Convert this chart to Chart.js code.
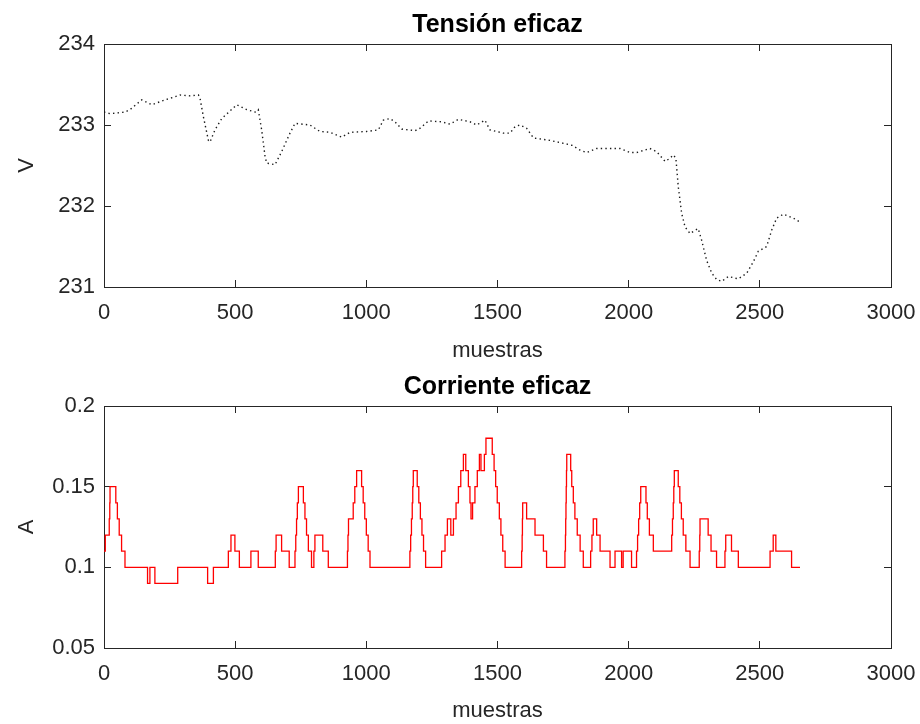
<!DOCTYPE html>
<html>
<head>
<meta charset="utf-8">
<script src="https://cdn.jsdelivr.net/npm/chart.js@4.4.1/dist/chart.umd.min.js"></script>
<style>
html,body{margin:0;padding:0;background:#fff;width:920px;height:724px;overflow:hidden}
canvas{position:absolute;left:0}
#c1{top:0}
#c2{top:362px}
</style>
</head>
<body>
<canvas id="c1" width="920" height="362"></canvas>
<canvas id="c2" width="920" height="362"></canvas>
<script>
// ---- data ----
const samplesV = [0,23,80,99,144,182,233,290,328,360,366,379,398,404,423,449,506,544,576,588,601,614,620,652,677,709,728,785,823,862,906,938,1001,1046,1065,1090,1109,1135,1186,1205,1237,1287,1319,1351,1395,1421,1452,1471,1522,1548,1567,1586,1611,1637,1700,1757,1783,1815,1840,1878,1929,1967,2005,2031,2081,2107,2139,2158,2170,2180,2189,2202,2215,2234,2253,2265,2278,2297,2317,2336,2355,2380,2418,2450,2475,2494,2526,2545,2564,2590,2628,2659];
const tensionV = [233.16,233.14,233.16,233.19,233.31,233.25,233.31,233.37,233.36,233.37,233.33,233.10,232.81,232.79,232.94,233.08,233.25,233.19,233.16,233.19,232.94,232.61,232.53,232.51,232.67,232.90,233.02,233.00,232.92,232.91,232.85,232.91,232.92,232.94,233.06,233.08,233.04,232.95,232.93,232.96,233.05,233.04,233.01,233.07,233.04,233.00,233.06,232.94,232.90,232.90,232.98,233.00,232.96,232.84,232.81,232.77,232.75,232.69,232.66,232.71,232.71,232.71,232.66,232.66,232.71,232.67,232.55,232.59,232.63,232.59,232.24,231.91,231.74,231.66,231.70,231.72,231.58,231.33,231.17,231.09,231.07,231.13,231.10,231.17,231.31,231.44,231.50,231.70,231.85,231.90,231.85,231.79];

// sample at which each current level starts, and that level (A)
const samplesI = [
  0,5,20,22,23,45,51,58,67,80,
  166,175,194,281,395,417,
  474,484,499,516,560,588,653,656,677,706,
  728,731,734,737,741,760,766,772,779,791,800,804,834,855,
  928,930,932,950,956,963,982,988,994,1000,1007,1014,
  1166,1169,1172,1175,1177,1179,1194,1200,1206,1212,1218,1226,
  1287,1300,1309,1322,1332,1342,1351,1360,1370,1379,1389,1395,1399,1405,1414,1423,1431,1437,1450,1456,
  1480,1487,1493,1499,1507,1513,1520,1529,
  1592,1594,1595,1596,1611,1643,1675,1687,
  1757,1759,1760,1761,1762,1763,1764,1779,1783,1789,1795,1804,1815,1827,
  1855,1860,1865,1878,1891,1929,1948,1973,1979,2011,
  2030,2034,2038,2042,2046,2066,2071,2079,2094,
  2164,2167,2170,2172,2174,2189,2195,2201,2208,2218,2234,
  2269,2271,2272,2303,2314,2335,2367,2370,2392,2418,
  2539,2551,2561,2621,2653
];
const corrienteA = [
  0.11,0.12,0.13,0.14,0.15,0.14,0.13,0.12,0.11,0.10,
  0.09,0.10,0.09,0.10,0.09,0.10,
  0.11,0.12,0.11,0.10,0.11,0.10,0.11,0.12,0.11,0.10,
  0.11,0.12,0.13,0.14,0.15,0.14,0.13,0.12,0.11,0.10,0.11,0.12,0.11,0.10,
  0.11,0.12,0.13,0.14,0.15,0.16,0.15,0.14,0.13,0.12,0.11,0.10,
  0.11,0.12,0.13,0.14,0.15,0.16,0.15,0.14,0.13,0.12,0.11,0.10,
  0.11,0.12,0.13,0.12,0.13,0.14,0.15,0.16,0.17,0.16,0.15,0.14,0.13,0.14,0.15,0.16,0.17,0.16,0.17,0.18,
  0.17,0.16,0.15,0.14,0.13,0.12,0.11,0.10,
  0.11,0.12,0.13,0.14,0.13,0.12,0.11,0.10,
  0.11,0.12,0.13,0.14,0.15,0.16,0.17,0.16,0.15,0.14,0.13,0.12,0.11,0.10,
  0.11,0.12,0.13,0.12,0.11,0.10,0.11,0.10,0.11,0.10,
  0.11,0.12,0.13,0.14,0.15,0.14,0.13,0.12,0.11,
  0.12,0.13,0.14,0.15,0.16,0.15,0.14,0.13,0.12,0.11,0.10,
  0.11,0.12,0.13,0.12,0.11,0.10,0.11,0.12,0.11,0.10,
  0.11,0.12,0.11,0.10,0.10
];

const xTicks = [0,500,1000,1500,2000,2500,3000];
const vTicks = [231,232,233,234];
const aTicks = [0.05,0.1,0.15,0.2];
const titles = ['Tensión eficaz','Corriente eficaz'];
const xLabel = 'muestras';
const yLabels = ['V','A'];

// ---- styling ----
const FONT = "'Liberation Sans', Arial, Helvetica, sans-serif";
const AX = '#262626';
const TICK_FONT = {family: FONT, size: 22};

function tickSetter(arr){ return s => { s.ticks = arr.map(v => ({value: v})); }; }

function makeScales(yTicks, yLabel, xHeight, xTitlePad){
  const gridOpt = {drawOnChartArea:false, drawTicks:true, tickLength:-7, color:AX, lineWidth:1};
  const borderOpt = {display:true, color:AX, width:1};
  return {
    x: {type:'linear', position:'bottom', min:xTicks[0], max:xTicks[xTicks.length-1],
        afterBuildTicks: tickSetter(xTicks),
        ticks:{color:AX, font:TICK_FONT, padding:20, maxRotation:0, autoSkip:false, callback:v=>String(v)},
        grid:gridOpt, border:borderOpt,
        title:{display:true, text:xLabel, color:AX, font:{family:FONT, size:22, lineHeight:1}, padding:{top:0,bottom:xTitlePad}},
        afterFit: s => { s.height = xHeight; s.paddingLeft = 0; s.paddingRight = 0; }},
    x2:{type:'linear', position:'top', min:xTicks[0], max:xTicks[xTicks.length-1],
        afterBuildTicks: tickSetter(xTicks),
        ticks:{display:false}, grid:gridOpt, border:borderOpt,
        afterFit: s => { s.height = 0; s.paddingLeft = 0; s.paddingRight = 0; }},
    y: {type:'linear', position:'left', min:yTicks[0], max:yTicks[yTicks.length-1],
        afterBuildTicks: tickSetter(yTicks),
        ticks:{color:AX, font:TICK_FONT, padding:16, autoSkip:false, callback:v=>String(v)},
        grid:gridOpt, border:borderOpt,
        title:{display:true, text:yLabel, color:AX, font:{family:FONT, size:22, lineHeight:1}, padding:{top:16,bottom:0}},
        afterFit: s => { s.width = 104; }},
    y2:{type:'linear', position:'right', min:yTicks[0], max:yTicks[yTicks.length-1],
        afterBuildTicks: tickSetter(yTicks),
        ticks:{display:false}, grid:gridOpt, border:borderOpt,
        afterFit: s => { s.width = 0; }}
  };
}

function baseOptions(title, scales){
  return {
    responsive:false, animation:false, devicePixelRatio:1,
    layout:{padding:{left:0,right:29,top:0,bottom:0}},
    plugins:{
      legend:{display:false}, tooltip:{enabled:false},
      title:{display:true, text:title, fullSize:false, color:'#000',
             font:{family:FONT, size:25, weight:'bold', lineHeight:1.2},
             padding:{top:10,bottom:4}}
    },
    scales
  };
}

new Chart(document.getElementById('c1'), {
  type:'scatter',
  data:{datasets:[{
    data: samplesV.map((s,i)=>({x:s, y:tensionV[i]})),
    showLine:true, borderColor:'#1a1a1a', borderWidth:1.4, borderDash:[1.4,3.2],
    pointRadius:0, fill:false, xAxisID:'x', yAxisID:'y'
  }]},
  options: baseOptions(titles[0], makeScales(vTicks, yLabels[0], 75, 0))
});

new Chart(document.getElementById('c2'), {
  type:'scatter',
  data:{datasets:[{
    data: samplesI.map((s,i)=>({x:s, y:corrienteA[i]})),
    showLine:true, stepped:true, borderColor:'#ff0000', borderWidth:1.3,
    pointRadius:0, fill:false, xAxisID:'x', yAxisID:'y'
  }]},
  options: baseOptions(titles[1], makeScales(aTicks, yLabels[1], 76, 2))
});
</script>
</body>
</html>
